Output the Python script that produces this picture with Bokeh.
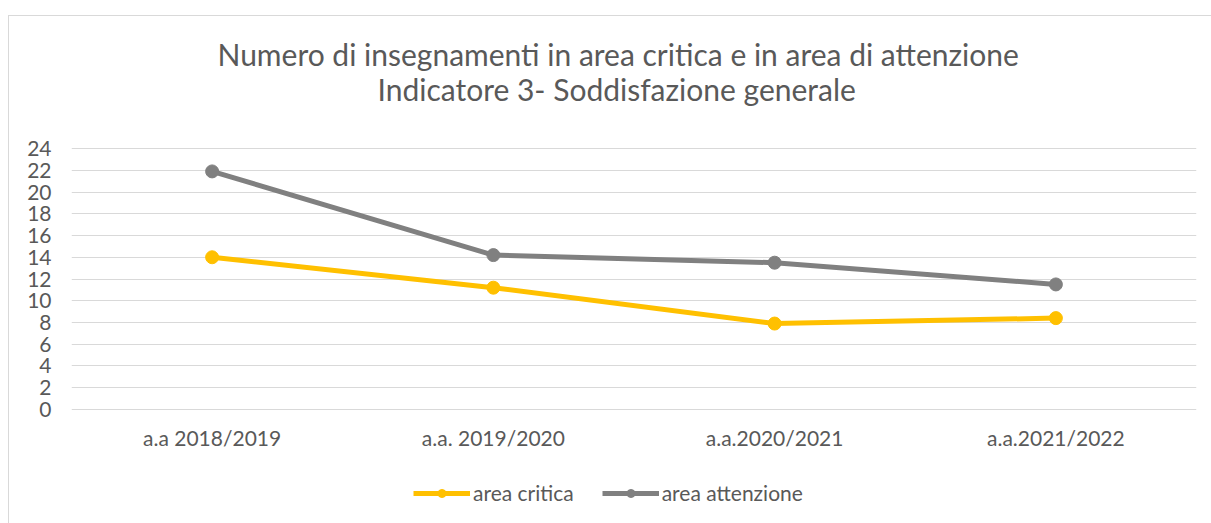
from bokeh.plotting import figure
from bokeh.layouts import column
from bokeh.models import (Range1d, FactorRange, FixedTicker, Legend, LegendItem, Title,
                          ColumnDataSource)
from bokeh.embed import file_html
from bokeh.resources import INLINE

categories = ["a.a 2018/2019", "a.a. 2019/2020", "a.a.2020/2021", "a.a.2021/2022"]
area_critica = [14, 11.2, 7.9, 8.4]
area_attenzione = [21.9, 14.2, 13.5, 11.5]
y_ticks = list(range(0, 26, 2))
title_line1 = "Numero di insegnamenti in area critica e in area di attenzione"
title_line2 = "Indicatore 3- Soddisfazione generale"
legend_labels = ["area critica", "area attenzione"]

FONT = "Lato"
TXT = "#595959"
YELLOW = "#FFC000"
GREY = "#808080"
GRID = "#D9D9D9"

p = figure(width=1203, height=460, x_range=FactorRange(*categories),
           y_range=Range1d(-0.1, 24.1), output_backend="svg", toolbar_location=None,
           min_border_left=62, min_border_right=16, min_border_top=131, min_border_bottom=66)

p.outline_line_color = None
p.background_fill_color = "white"
p.border_fill_color = "white"
p.xgrid.grid_line_color = None
p.ygrid.grid_line_color = GRID
p.ygrid.grid_line_width = 1
p.yaxis.ticker = FixedTicker(ticks=y_ticks)

for ax in (p.xaxis[0], p.yaxis[0]):
    ax.axis_line_color = None
    ax.major_tick_line_color = None
    ax.minor_tick_line_color = None
    ax.major_tick_in = 0
    ax.major_tick_out = 0
    ax.major_label_text_font = FONT
    ax.major_label_text_font_size = "21px"
    ax.major_label_text_color = TXT
p.yaxis.major_label_standoff = 20
p.xaxis.major_label_standoff = 14

src1 = ColumnDataSource(dict(x=categories, y=area_critica))
src2 = ColumnDataSource(dict(x=categories, y=area_attenzione))
p.line("x", "y", source=src1, line_color=YELLOW, line_width=5)
p.scatter("x", "y", source=src1, size=13, fill_color=YELLOW, line_color=YELLOW)
p.line("x", "y", source=src2, line_color=GREY, line_width=5)
p.scatter("x", "y", source=src2, size=13, fill_color=GREY, line_color=GREY)

t2 = Title(text=title_line2, align="left", text_font=FONT, text_font_size="30px",
           text_color=TXT, text_font_style="normal", offset=306, standoff=82)
t1 = Title(text=title_line1, align="left", text_font=FONT, text_font_size="30px",
           text_color=TXT, text_font_style="normal", offset=146, standoff=-88)
p.add_layout(t2, "above")
p.add_layout(t1, "above")

# legend strip (same series, drawn outside its visible y range)
p2 = figure(width=1203, height=48, x_range=FactorRange(*categories), y_range=Range1d(30, 31),
            output_backend="svg", toolbar_location=None, x_axis_type=None, y_axis_type=None,
            min_border_left=0, min_border_right=0, min_border_top=0, min_border_bottom=0)
p2.outline_line_color = None
p2.xgrid.grid_line_color = None
p2.ygrid.grid_line_color = None
lg1 = p2.line("x", "y", source=src1, line_color=YELLOW, line_width=5)
mk1 = p2.scatter("x", "y", source=src1, size=13, fill_color=YELLOW, line_color=YELLOW)
lg2 = p2.line("x", "y", source=src2, line_color=GREY, line_width=5)
mk2 = p2.scatter("x", "y", source=src2, size=13, fill_color=GREY, line_color=GREY)
legend = Legend(items=[LegendItem(label=legend_labels[0], renderers=[lg1, mk1]),
                       LegendItem(label=legend_labels[1], renderers=[lg2, mk2])],
                orientation="horizontal", location=(342, 19),
                glyph_width=57, glyph_height=20, label_standoff=3, spacing=28,
                label_text_font=FONT, label_text_font_size="21px", label_text_color=TXT,
                border_line_color=None, background_fill_alpha=0, margin=0, padding=5)
p2.add_layout(legend, "center")

layout = column(p, p2, spacing=0, margin=(15, 0, 0, 8))
layout.styles = {"border-left": "1px solid #D9D9D9", "border-top": "1px solid #D9D9D9"}

open("out.html", "w").write(file_html(layout, INLINE))
